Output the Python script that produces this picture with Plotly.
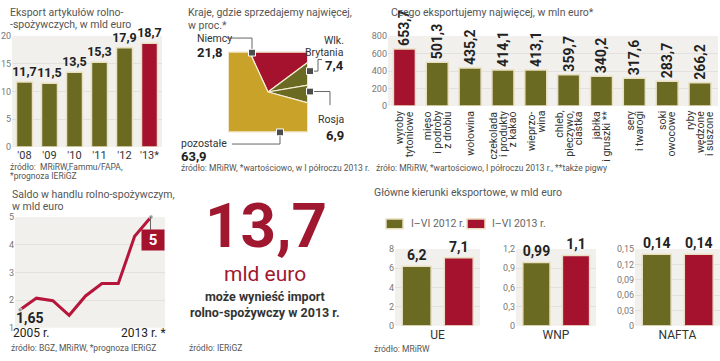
import math
import plotly.graph_objects as go

# ---------------- data ----------------
export_years = ["'08", "'09", "'10", "'11", "'12", "'13*"]
export_values = [11.7, 11.5, 13.5, 15.3, 17.9, 18.7]

countries = ["Niemcy", "Wlk. Brytania", "Rosja", "pozostałe"]
country_shares = [21.8, 7.4, 6.9, 63.9]

products = ["wyroby<br>tytoniowe", "mięso<br>i podroby<br>z drobiu", "wołowina",
            "czekolada<br>i produkty<br>z kakao", "wieprzo-<br>wina",
            "chleb,<br>pieczywo,<br>ciastka", "jabłka<br>i gruszki **",
            "sery<br>i twarogi", "soki<br>owocowe", "ryby<br>wędzone<br>i suszone"]
product_values = [653.7, 501.3, 435.2, 414.1, 413.1, 359.7, 340.2, 317.6, 283.7, 266.2]

saldo_years = [2005, 2006, 2007, 2008, 2009, 2010, 2011, 2012, 2013]
saldo_values = [1.65, 2.07, 1.98, 1.45, 2.15, 2.6, 2.6, 4.3, 5.0]

regions = ["UE", "WNP", "NAFTA"]
h1_2012 = [6.2, 0.99, 0.14]
h1_2013 = [7.1, 1.1, 0.14]
series_names = ["I–VI 2012 r.", "I–VI 2013 r."]
region_tickvals = [[0, 2, 4, 6, 8], [0, 0.3, 0.6, 0.9, 1.2], [0, 0.03, 0.06, 0.09, 0.12, 0.15]]
region_ticktext = [["0", "2", "4", "6", "8"], ["0", "0,3", "0,6", "0,9", "1,2"],
                   ["0", "0,03", "0,06", "0,09", "0,12", "0,15"]]
region_ranges = [[0, 8], [0, 1.2], [0, 0.15]]

import_value = "13,7"

# ---------------- style ----------------
W, H = 720, 361
OLIVE = "#6a6a22"
RED = "#a5122e"
GOLD = "#c9a22a"
CREAM = "#ebdfc2"
BG = "#f1f0ed"
GRID = "#e2e1dd"
FONT = "Roboto, Open Sans, sans-serif"
BOLD = "Roboto, sans-serif"


def px(x):
    return x / W


def py(y):
    return 1 - y / H


def fmt(v):
    return str(v).replace(".", ",")


fig = go.Figure()

# 1. export bars
fig.add_trace(go.Bar(
    x=export_years, y=export_values, xaxis="x", yaxis="y", showlegend=False,
    marker=dict(color=[OLIVE] * (len(export_values) - 1) + [RED], line=dict(color=CREAM, width=1.5)),
    width=0.64, text=["<b>" + fmt(v) + "</b>" for v in export_values],
    textposition="outside", textfont=dict(size=12.5, color="#222", family=BOLD),
    constraintext="none", cliponaxis=False, hoverinfo="skip"))

# 2. square pie (anchor trace so the subplot exists; slices drawn as shapes in its data coords)
fig.add_trace(go.Scatter(x=[-1, 1], y=[-1, 1], xaxis="x2", yaxis="y2", mode="markers",
                         marker=dict(opacity=0), hoverinfo="skip", showlegend=False))
pie_colors = [RED, OLIVE, OLIVE, GOLD]
start = -24.9


def sq(a):
    r = math.radians(a)
    s, c = math.sin(r), math.cos(r)
    m = max(abs(s), abs(c))
    return s / m, c / m


pie_shapes = []
ang = start
for name, share, col in zip(countries, country_shares, pie_colors):
    a0, a1 = ang, ang + share * 3.6
    angles = [a0, a1]
    for k in range(-3, 8):
        ca = 45 + 90 * k
        if a0 < ca < a1:
            angles.append(ca)
    angles.sort()
    pts = [(0.0, 0.0)] + [sq(a) for a in angles]
    path = "M " + " L ".join("%f,%f" % p for p in pts) + " Z"
    pie_shapes.append(dict(type="path", xref="x2", yref="y2", path=path, fillcolor=col,
                           line=dict(color="#f6eed6", width=1.2), layer="above"))
    ang = a1

# 3. product bars
fig.add_trace(go.Bar(
    x=products, y=product_values, xaxis="x3", yaxis="y3", showlegend=False,
    marker=dict(color=[RED] + [OLIVE] * (len(product_values) - 1), line=dict(color=CREAM, width=1.5)),
    width=0.67, text=["<b>" + fmt(v) + "</b>" for v in product_values],
    textposition="outside", textangle=-90, textfont=dict(size=14, color="#222", family=BOLD),
    constraintext="none", cliponaxis=False, hoverinfo="skip"))

# 4. saldo line
fig.add_trace(go.Scatter(x=saldo_years, y=saldo_values, xaxis="x4", yaxis="y4", mode="lines",
                         line=dict(color="#b5163a", width=3), hoverinfo="skip", showlegend=False,
                         cliponaxis=False))
fig.add_trace(go.Scatter(x=[saldo_years[0], saldo_years[-1]], y=[saldo_values[0], saldo_values[-1]],
                         xaxis="x4", yaxis="y4", mode="markers",
                         marker=dict(size=4, color="#999", line=dict(color="white", width=0.5)),
                         hoverinfo="skip", showlegend=False, cliponaxis=False))

# 5. small region bars
for i, reg in enumerate(regions):
    xa, ya = "x%d" % (5 + i), "y%d" % (5 + i)
    for vals, col, nm, off in [(h1_2012, OLIVE, series_names[0], -0.415),
                               (h1_2013, RED, series_names[1], 0.08)]:
        fig.add_trace(go.Bar(
            x=[reg], y=[vals[i]], xaxis=xa, yaxis=ya, name=nm,
            marker=dict(color=col, line=dict(color=CREAM, width=1.5)),
            width=0.34, offset=off, text=["<b>" + fmt(vals[i]) + "</b>"],
            textposition="outside", textfont=dict(size=14, color="#222", family=BOLD),
            constraintext="none", cliponaxis=False, hoverinfo="skip", showlegend=False))

tickfont = dict(size=9, color="#777", family=FONT)


def yax(dom_px, rng, tv, tt=None):
    d = dict(domain=[py(dom_px[1]), py(dom_px[0])], range=rng, tickvals=tv, showgrid=True,
             gridcolor=GRID, gridwidth=1, zeroline=False, showline=False, ticks="",
             tickfont=tickfont, fixedrange=True)
    if tt is not None:
        d["ticktext"] = tt
    return d


layout = dict(
    width=W, height=H, margin=dict(l=0, r=0, t=0, b=0),
    paper_bgcolor="white", plot_bgcolor="rgba(0,0,0,0)",
    font=dict(family=FONT, color="#444"),
    barmode="overlay", showlegend=False,
    # chart 1
    xaxis=dict(domain=[px(12), px(162)], showgrid=False, zeroline=False, showline=False, ticks="",
               tickfont=dict(size=11, color="#333", family=FONT), fixedrange=True),
    yaxis=yax((32, 146), [0, 20], [0, 5, 10, 15, 20]),
    # pie
    xaxis2=dict(domain=[px(228), px(308)], range=[-1, 1], visible=False, fixedrange=True),
    yaxis2=dict(domain=[py(131), py(48)], range=[-1, 1], visible=False, fixedrange=True),
    # products
    xaxis3=dict(domain=[px(388), px(718)], showgrid=False, zeroline=False, showline=False, ticks="",
                showticklabels=False, fixedrange=True),
    yaxis3=yax((32, 104), [0, 800], [0, 200, 400, 600, 800]),
    # saldo
    xaxis4=dict(domain=[px(15), px(165)], range=[2004.69, 2013.855], showgrid=False, zeroline=False,
                showline=False, showticklabels=False, ticks="", fixedrange=True),
    yaxis4=yax((218, 332), [1, 5], [1, 2, 3, 4, 5]),
)

small_dom = [(395, 480), (516, 596), (635, 720)]
for i in range(3):
    layout["xaxis%d" % (5 + i)] = dict(domain=[px(small_dom[i][0]), px(small_dom[i][1])],
                                       showgrid=False, zeroline=False, showline=False, ticks="",
                                       tickfont=dict(size=12, color="#333", family=FONT),
                                       fixedrange=True)
    layout["yaxis%d" % (5 + i)] = yax((251, 330), region_ranges[i], region_tickvals[i],
                                      region_ticktext[i])
    layout["yaxis%d" % (5 + i)]["anchor"] = "x%d" % (5 + i)
    layout["xaxis%d" % (5 + i)]["anchor"] = "y%d" % (5 + i)

for k in [2, 3, 4]:
    layout["xaxis%d" % k]["anchor"] = "y%d" % k
    layout["yaxis%d" % k]["anchor"] = "x%d" % k

fig.update_layout(**layout)

# background panels
shapes = []
for xa, ya in [("x", "y"), ("x3", "y3"), ("x4", "y4"), ("x5", "y5"), ("x6", "y6"), ("x7", "y7")]:
    shapes.append(dict(type="rect", xref=xa + " domain", yref=ya + " domain", x0=0, x1=1, y0=0, y1=1,
                       fillcolor=BG, line=dict(width=0), layer="below"))

shapes += pie_shapes
# pie border
shapes.append(dict(type="rect", xref="x2", yref="y2", x0=-1, x1=1, y0=-1, y1=1,
                   line=dict(color="#efe4c6", width=2), fillcolor="rgba(0,0,0,0)"))


def ppath(points):
    return "M " + " L ".join("%f,%f" % (px(x), py(y)) for x, y in points)


LEADER = "#666"
for pts in [[(227, 34), (252, 34), (252, 49)],
            [(310, 68), (318, 68), (318, 56), (322, 56)],
            [(310, 89), (330, 89), (330, 103)],
            [(280, 131), (280, 143), (232, 143)],
            [(150.5, 218), (150.5, 233)]]:
    shapes.append(dict(type="path", xref="paper", yref="paper", path=ppath(pts),
                       line=dict(color=LEADER, width=1)))
for (mx, my) in [(252, 49), (310, 68), (310, 89), (280, 131)]:
    shapes.append(dict(type="rect", xref="paper", yref="paper", x0=px(mx - 3.5), x1=px(mx + 3.5),
                       y0=py(my + 3.5), y1=py(my - 3.5), fillcolor="#4d4d4d",
                       line=dict(color="white", width=1)))

# custom legend swatches
for (x0, x1), col in zip([(386, 403), (467, 485)], [OLIVE, RED]):
    shapes.append(dict(type="rect", xref="paper", yref="paper", x0=px(x0), x1=px(x1),
                       y0=py(230), y1=py(220), fillcolor=col, line=dict(color=CREAM, width=1.5)))
fig.update_layout(shapes=shapes)

anns = []


def ann(x, y, text, size=10.5, color="#555", xanchor="left", yanchor="middle", family=FONT, **kw):
    anns.append(dict(x=px(x), y=py(y), xref="paper", yref="paper", text=text, showarrow=False,
                     xanchor=xanchor, yanchor=yanchor, align=xanchor if xanchor != "center" else "center",
                     font=dict(size=size, color=color, family=family), **kw))


# titles
ann(8, 8, "Eksport artykułów rolno-")
ann(8, 20.5, "-spożywczych, w mld euro")
ann(186, 8, "Kraje, gdzie sprzedajemy najwięcej,")
ann(186, 21, "w proc.*")
ann(389, 8, "Czego eksportujemy najwięcej, w mln euro*")
ann(10, 195, "Saldo w handlu rolno-spożywczym,")
ann(10, 207.5, "w mld euro")
ann(372, 193, "Główne kierunki eksportowe, w mld euro")

# legend texts
ann(409, 225, series_names[0], 10.5, "#666")
ann(490, 225, series_names[1], 10.5, "#666")

# product category labels (rotated, one annotation per line for tight spacing)
for cat in products:
    lines = cat.split("<br>")
    n = len(lines)
    for j, ln in enumerate(lines):
        anns.append(dict(x=cat, xref="x3", y=py(107), yref="paper", text=ln, showarrow=False,
                         textangle=-90, xanchor="center", yanchor="top",
                         xshift=(j - (n - 1) / 2) * 9.5,
                         font=dict(size=10.5, color="#333", family=FONT)))

# sources
src = 8.5
ann(8, 167, "źródło:  MRiRW,Fammu/FAPA,", src)
ann(8, 176, "*prognoza IERiGZ", src)
ann(179, 168, "źródło: MRiRW, *wartościowo, w I półroczu 2013 r.", src)
ann(374, 168, "źróło: MRiRW, *wartościowo, I półroczu 2013 r., **także pigwy", src)
ann(9, 353, "źródło: BGZ, MRiRW, *prognoza IERiGZ", src)
ann(187, 353, "źródło: IERiGZ", src)
ann(372, 354, "źródło: MRiRW", src)

# pie labels
ann(195, 34, "Niemcy", 10.5, "#333")
ann(195, 48.5, "<b>" + fmt(country_shares[0]) + "</b>", 13, "#222", family=BOLD)
ann(346, 36, "Wlk.", 10.5, "#333", xanchor="right")
ann(346, 48.5, "Brytania", 10.5, "#333", xanchor="right")
ann(346, 62.5, "<b>" + fmt(country_shares[1]) + "</b>", 13, "#222", xanchor="right", family=BOLD)
ann(346, 118, "Rosja", 10.5, "#333", xanchor="right")
ann(346, 134, "<b>" + fmt(country_shares[2]) + "</b>", 13, "#222", xanchor="right", family=BOLD)
ann(179, 142.5, "pozostałe", 10.5, "#333")
ann(179, 156, "<b>" + fmt(country_shares[3]) + "</b>", 13, "#222", family=BOLD)

# saldo labels
ann(14, 322, "<b>" + fmt(saldo_values[0]) + "</b>", 14, "#222", family=BOLD)
ann(11, 337, "2005 r.", 12, "#222")
ann(168, 337, "2013 r. *", 12, "#222", xanchor="right")
anns.append(dict(x=px(153), y=py(241.5), xref="paper", yref="paper",
                 text="<b>" + fmt(saldo_values[-1]).replace(",0", "") + "</b>", showarrow=False,
                 xanchor="center", yanchor="middle", bgcolor=RED, width=20, height=18,
                 font=dict(size=15, color="white", family=FONT)))

# big import number
ann(266, 227, "<b>" + import_value + "</b>", 62, "#a0182f", xanchor="center")
ann(265, 277, "mld euro", 21, "#a0182f", xanchor="center")
ann(265, 300, "<b>może wynieść import</b>", 12.5, "#333", xanchor="center")
ann(265, 316, "<b>rolno-spożywczy w 2013 r.</b>", 12.5, "#333", xanchor="center")

fig.update_layout(annotations=anns)

fig.write_html("out.html", config={"displayModeBar": False},
               post_script="document.body.style.margin='0px';document.body.style.overflow='hidden';")
